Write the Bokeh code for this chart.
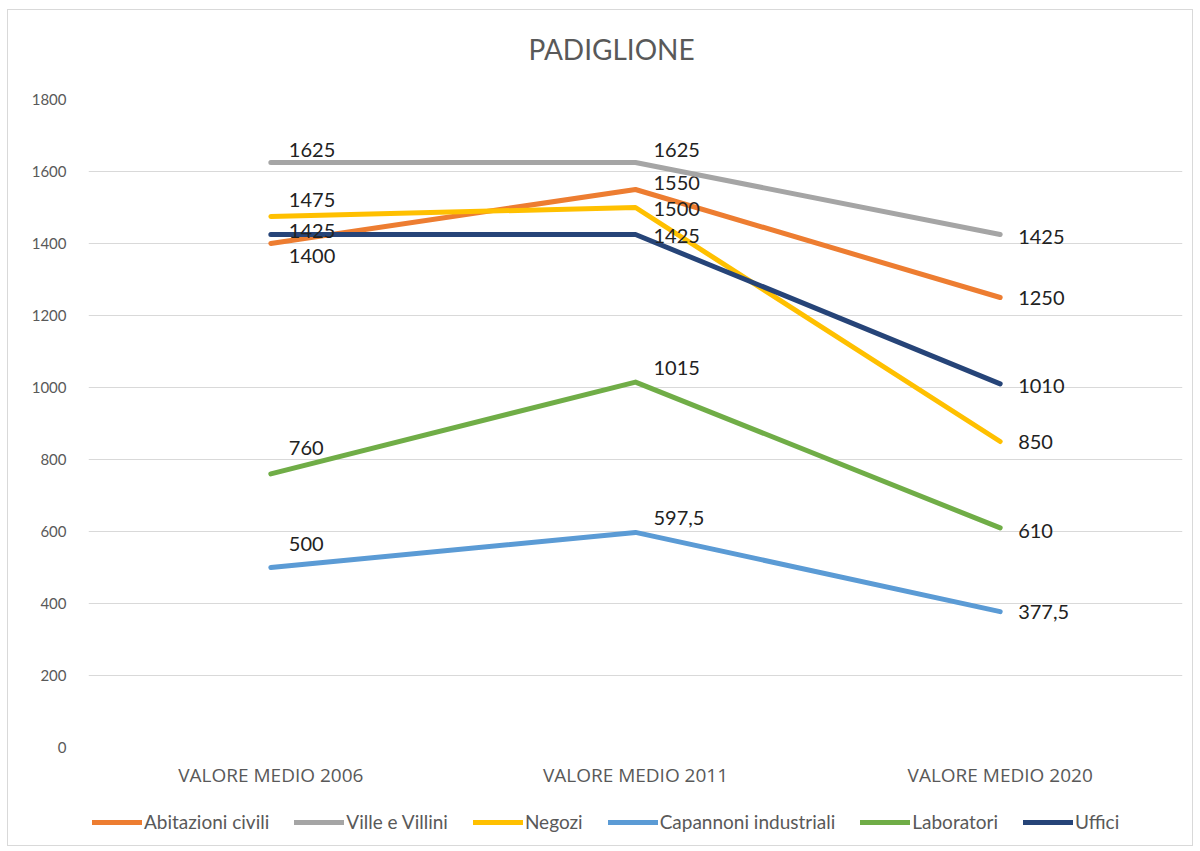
from bokeh.plotting import figure
from bokeh.layouts import column
from bokeh.models import (FactorRange, Range1d, FixedTicker, Legend, LegendItem,
                          ColumnDataSource, Title)
from bokeh.core.properties import value
from bokeh.embed import file_html
from bokeh.resources import INLINE

# ---- data ----
categories = ["VALORE MEDIO 2006", "VALORE MEDIO 2011", "VALORE MEDIO 2020"]
series_names = ["Abitazioni civili", "Ville e Villini", "Negozi",
                "Capannoni industriali", "Laboratori", "Uffici"]
abitazioni = [1400, 1550, 1250]
ville = [1625, 1625, 1425]
negozi = [1475, 1500, 850]
capannoni = [500, 597.5, 377.5]
laboratori = [760, 1015, 610]
uffici = [1425, 1425, 1010]
y_ticks = [0, 200, 400, 600, 800, 1000, 1200, 1400, 1600, 1800]

# ---- styles ----
colors = ["#ED7D31", "#A5A5A5", "#FFC000", "#5B9BD5", "#70AD47", "#264478"]
# label vertical shifts in pixels (positive = up), per series / category
label_up = [
    [-12, 7, 0],
    [13, 13, -2],
    [17, -1, 0],
    [24, 14, 0],
    [26, 14, -3],
    [4, -1, -2],
]
FONT = "Lato"
GRAY = "#595959"

all_series = [abitazioni, ville, negozi, capannoni, laboratori, uffici]

# ---- main chart ----
p = figure(width=1184, height=790, output_backend="svg", toolbar_location=None,
           x_range=FactorRange(*categories, range_padding=0),
           y_range=Range1d(0, 1800),
           min_border_left=80, min_border_right=10,
           min_border_top=89, min_border_bottom=53)
p.outline_line_color = None
p.background_fill_color = "white"
p.border_fill_color = "white"

# spacer title next to the frame, the real title above it
p.add_layout(Title(text=" ", text_font_size="24px", standoff=0), "above")
p.add_layout(Title(text="PADIGLIONE", align="left", offset=440,
                   text_font=FONT, text_font_size="28px",
                   text_font_style="normal", text_color=GRAY), "above")

p.xgrid.grid_line_color = None
p.ygrid.grid_line_color = "#d9d9d9"
p.ygrid.grid_line_width = 1

p.yaxis.ticker = FixedTicker(ticks=y_ticks)
for ax in (p.xaxis[0], p.yaxis[0]):
    ax.axis_line_color = None
    ax.major_tick_line_color = None
    ax.minor_tick_line_color = None
    ax.major_label_text_color = GRAY
p.yaxis.major_label_text_font = FONT
p.yaxis.major_label_text_font_size = "15px"
p.yaxis.major_label_standoff = 16
p.xaxis.major_label_text_font = "Open Sans"
p.xaxis.major_label_text_font_size = "19px"
p.xaxis.major_label_standoff = 8

for name, vals, col, ups in zip(series_names, all_series, colors, label_up):
    p.line(categories, vals, line_color=col, line_width=5, line_cap="round",
           line_join="round")
    labels = [("%g" % v).replace(".", ",") for v in vals]
    src = ColumnDataSource(dict(x=categories, y=vals, t=labels,
                                yo=[-u for u in ups]))
    p.text(x="x", y="y", text="t", source=src, x_offset=18, y_offset="yo",
           text_align="left", text_baseline="middle",
           text_font=value(FONT), text_font_size="20px", text_color="#222222")

# ---- legend strip (same series, kept out of its visible range) ----
p2 = figure(width=1184, height=45, output_backend="svg", toolbar_location=None,
            x_range=FactorRange(*categories, range_padding=0),
            y_range=Range1d(-10, -5), min_border=0)
p2.outline_line_color = None
p2.axis.visible = False
p2.grid.visible = False
items = []
for name, vals, col in zip(series_names, all_series, colors):
    r = p2.line(categories, vals, line_color=col, line_width=5, line_cap="round")
    items.append(LegendItem(label=name, renderers=[r]))

legend = Legend(items=items, orientation="horizontal", location=(4, 12),
                glyph_width=50, glyph_height=20, label_height=20,
                label_standoff=2, spacing=25,
                padding=0, margin=0, border_line_color=None,
                background_fill_alpha=0,
                label_text_font=FONT, label_text_font_size="19px",
                label_text_color=GRAY)
p2.add_layout(legend, "center")

layout = column(p, p2, spacing=0,
                styles={"border": "1px solid #d9d9d9",
                        "margin-left": "7px", "margin-top": "9px"})

open("out.html", "w").write(file_html(layout, INLINE))
